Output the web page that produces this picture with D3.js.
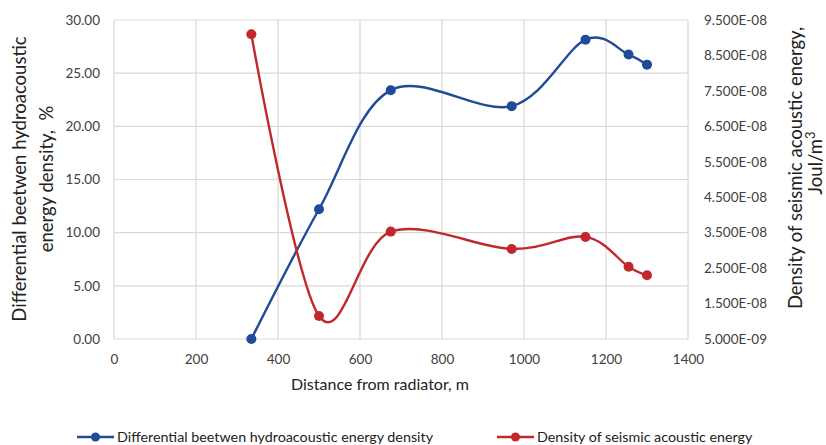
<!DOCTYPE html>
<html>
<head>
<meta charset="utf-8">
<script src="https://cdn.jsdelivr.net/npm/d3@7"></script>
<style>
  html, body { margin: 0; padding: 0; background: #fff; }
  svg { display: block; font-family: Lato, "Open Sans", sans-serif; }
</style>
</head>
<body>
<svg id="chart" width="826" height="445"></svg>
<script>
// Distances from the radiator, m
const distances = [335, 500, 675, 970, 1150, 1255, 1300];
// Differential between hydroacoustic energy density, %
const differential = [0.0, 12.2, 23.4, 21.9, 28.15, 26.75, 25.8];
// Density of seismic acoustic energy, Joul/m3
const seismicDensity = [9.1e-8, 1.15e-8, 3.53e-8, 3.04e-8, 3.38e-8, 2.54e-8, 2.3e-8];

const xTicks = [0, 200, 400, 600, 800, 1000, 1200, 1400];
const leftTicks = [0, 5, 10, 15, 20, 25, 30];
const rightTicks = [5e-9, 1.5e-8, 2.5e-8, 3.5e-8, 4.5e-8, 5.5e-8, 6.5e-8, 7.5e-8, 8.5e-8, 9.5e-8];

const blue = "#1f4b97";
const red = "#c1272d";
const textColor = "#404040";
const gridColor = "#d9d9d9";

const svg = d3.select("#chart");
const plot = { left: 114, right: 688, top: 20, bottom: 339 };

const x = d3.scaleLinear().domain([0, 1400]).range([plot.left, plot.right]);
const yL = d3.scaleLinear().domain([0, 30]).range([plot.bottom, plot.top]);
const yR = d3.scaleLinear().domain([5e-9, 9.5e-8]).range([plot.bottom, plot.top]);

// Gridlines
const grid = svg.append("g");
grid.selectAll("line.h").data(leftTicks).join("line")
  .attr("x1", plot.left).attr("x2", plot.right)
  .attr("y1", d => yL(d)).attr("y2", d => yL(d))
  .attr("stroke", gridColor).attr("stroke-width", 1.2);
grid.selectAll("line.v").data(xTicks).join("line")
  .attr("y1", plot.top).attr("y2", plot.bottom)
  .attr("x1", d => x(d)).attr("x2", d => x(d))
  .attr("stroke", gridColor).attr("stroke-width", 1.2);

// Axes
const fmtL = d3.format(".2f");
const fmtR = d => {
  const exp = Math.floor(Math.log10(d));
  const mant = d / Math.pow(10, exp);
  const sign = exp < 0 ? "-" : "+";
  return mant.toFixed(3) + "E" + sign + String(Math.abs(exp)).padStart(2, "0");
};

const xAxis = svg.append("g").attr("transform", `translate(0,${plot.bottom})`)
  .call(d3.axisBottom(x).tickValues(xTicks).tickFormat(d3.format("d")).tickSize(0).tickPadding(15));
const yAxisL = svg.append("g").attr("transform", `translate(${plot.left},0)`)
  .call(d3.axisLeft(yL).tickValues(leftTicks).tickFormat(fmtL).tickSize(0).tickPadding(14));
const yAxisR = svg.append("g").attr("transform", `translate(${plot.right},0)`)
  .call(d3.axisRight(yR).tickValues(rightTicks).tickFormat(fmtR).tickSize(0).tickPadding(16));

[xAxis, yAxisL, yAxisR].forEach(a => {
  a.select(".domain").remove();
  a.selectAll("text").attr("fill", textColor).style("font-size", "13.5px")
    .style("font-family", "Lato, 'Open Sans', sans-serif");
});
yAxisR.selectAll("text").style("font-size", "13.5px");

// Smoothed series lines
const pts1 = distances.map((d, i) => [x(d), yL(differential[i])]);
const pts2 = distances.map((d, i) => [x(d), yR(seismicDensity[i])]);
const line = d3.line().curve(d3.curveCardinal.tension(0));

svg.append("path").attr("d", line(pts1)).attr("fill", "none")
  .attr("stroke", blue).attr("stroke-width", 2.4);
svg.append("path").attr("d", line(pts2)).attr("fill", "none")
  .attr("stroke", red).attr("stroke-width", 2.4);

svg.append("g").selectAll("circle").data(pts1).join("circle")
  .attr("cx", d => d[0]).attr("cy", d => d[1]).attr("r", 5).attr("fill", blue);
svg.append("g").selectAll("circle").data(pts2).join("circle")
  .attr("cx", d => d[0]).attr("cy", d => d[1]).attr("r", 5).attr("fill", red);

// Axis titles
svg.append("text").attr("x", 380).attr("y", 390)
  .attr("text-anchor", "middle").attr("fill", "#222").style("font-size", "16px")
  .text("Distance from radiator, m");

const lt = svg.append("text").attr("transform", "translate(0,179) rotate(-90)")
  .attr("text-anchor", "middle").attr("fill", "#222").style("font-size", "18.5px")
  .style("white-space", "pre");
lt.append("tspan").attr("x", 0).attr("y", 25.5).text("Differential beetwen hydroacoustic");
lt.append("tspan").attr("x", 0).attr("y", 53).text("energy density,  %");

const rt = svg.append("text").attr("transform", "translate(0,168) rotate(-90)")
  .attr("text-anchor", "middle").attr("fill", "#222").style("font-size", "18.5px");
rt.append("tspan").attr("x", 0).attr("y", 801.5).text("Density of seismic acoustic energy,");
const rt2 = rt.append("tspan").attr("x", 5).attr("y", 822);
rt2.append("tspan").text("Joul/m");
rt2.append("tspan").attr("dy", -7).style("font-size", "13px").text("3");

// Legend
const legendItems = [
  { label: "Differential beetwen hydroacoustic energy density", color: blue, x0: 77 },
  { label: "Density of seismic acoustic energy", color: red, x0: 497 }
];
const lg = svg.append("g");
legendItems.forEach(it => {
  const g = lg.append("g").attr("transform", `translate(${it.x0},437)`);
  g.append("line").attr("x1", 0).attr("x2", 37).attr("y1", 0).attr("y2", 0)
    .attr("stroke", it.color).attr("stroke-width", 2.4);
  g.append("circle").attr("cx", 18.5).attr("cy", 0).attr("r", 4.5).attr("fill", it.color);
  g.append("text").attr("x", 40).attr("y", 5).attr("fill", "#222")
    .style("font-size", "14.3px").text(it.label);
});
</script>
</body>
</html>
